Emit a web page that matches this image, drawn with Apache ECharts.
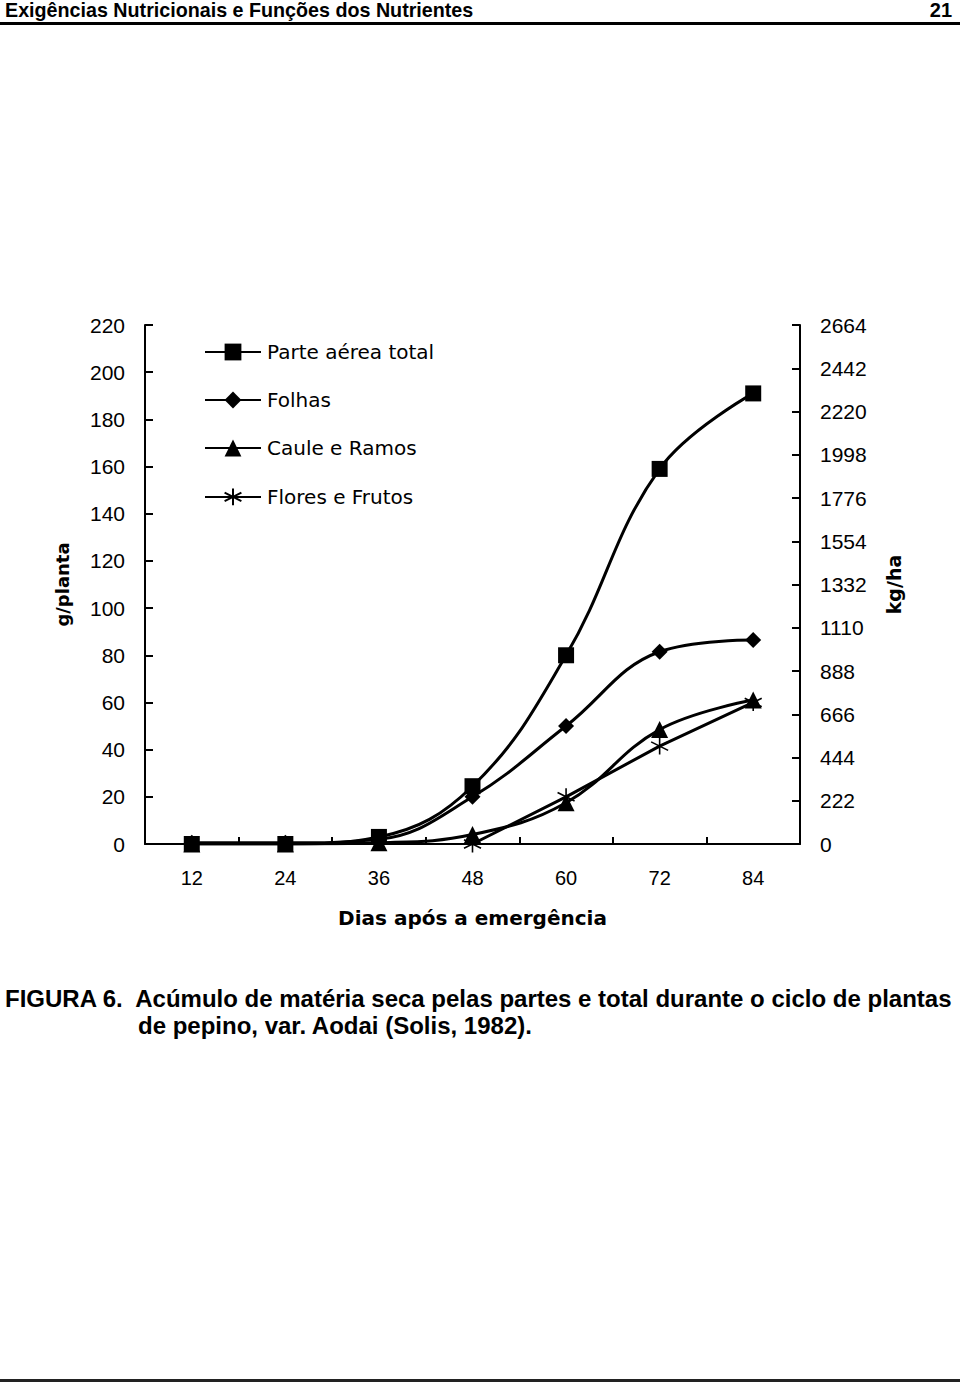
<!DOCTYPE html>
<html>
<head>
<meta charset="utf-8">
<script src="https://cdn.jsdelivr.net/npm/echarts@6/dist/echarts.min.js"></script>
<style>
html,body{margin:0;padding:0;background:#fff;}
#c{width:960px;height:1385px;}
</style>
</head>
<body>
<div id="c"></div>
<script>
// ---- data ----
const days = ['12', '24', '36', '48', '60', '72', '84'];
const parteAereaTotal = [0, 0, 3, 24.5, 80, 159, 191];
const folhas = [0.5, 0.5, 2, 20, 50, 81.5, 86.5];
const cauleRamos = [0, 0, 0.5, 4, 17.5, 48.5, 61];
const floresFrutos = [null, null, null, 0, 20, 41.5, 60];
const seriesNames = ['Parte aérea total', 'Folhas', 'Caule e Ramos', 'Flores e Frutos'];
const leftMax = 220, leftStep = 20;
const rightMax = 2664, rightStep = 222;

const headerTitle = 'Exigências Nutricionais e Funções dos Nutrientes';
const pageNumber = '21';
const captionLine1 = 'FIGURA 6.  Acúmulo de matéria seca pelas partes e total durante o ciclo de plantas';
const captionLine2 = 'de pepino, var. Aodai (Solis, 1982).';

const NARROW = '"Liberation Sans Narrow", "Liberation Sans", Arial, sans-serif';
const SANS = '"Liberation Sans", Arial, sans-serif';
const WIDE = '"DejaVu Sans", sans-serif';
const asterisk = 'path://M0,-10L0,10M-8.66,-5L8.66,5M-8.66,5L8.66,-5';

const chart = echarts.init(document.getElementById('c'), null, {renderer: 'svg'});

function mkSeries(name, data, symbol, size, smooth, z) {
  const s = {
    name: name,
    type: 'line',
    data: data,
    smooth: smooth,
    symbol: symbol,
    symbolSize: size,
    z: z,
    connectNulls: false,
    lineStyle: {color: '#000', width: 3},
    itemStyle: {color: '#000'},
    emphasis: {disabled: true},
    animation: false
  };
  if (symbol === asterisk) {
    s.itemStyle = {color: 'none', borderColor: '#000', borderWidth: 1.6};
  }
  return s;
}

const option = {
  animation: false,
  backgroundColor: '#fff',
  grid: {left: 145, right: 160, top: 325, bottom: 541, containLabel: false},
  legend: {
    data: seriesNames,
    orient: 'vertical',
    left: 199,
    top: 337,
    itemWidth: 56,
    itemHeight: 21,
    itemGap: 28,
    textStyle: {fontFamily: WIDE, fontSize: 20, color: '#000', padding: [0, 0, 0, 1]},
    selectedMode: false
  },
  xAxis: {
    type: 'category',
    data: days,
    boundaryGap: true,
    name: 'Dias após a emergência',
    nameLocation: 'middle',
    nameGap: 64,
    nameTextStyle: {fontFamily: WIDE, fontWeight: 'bold', fontSize: 20, color: '#000'},
    axisLine: {show: true, lineStyle: {color: '#000', width: 2}},
    axisTick: {show: true, inside: true, length: 7, lineStyle: {color: '#000', width: 2}},
    axisLabel: {fontFamily: SANS, fontSize: 20, color: '#000', margin: 24},
    splitLine: {show: false}
  },
  yAxis: [
    {
      type: 'value',
      min: 0, max: leftMax, interval: leftStep,
      position: 'left',
      name: 'g/planta',
      nameLocation: 'middle',
      nameRotate: 90,
      nameGap: 74,
      nameTextStyle: {fontFamily: WIDE, fontWeight: 'bold', fontSize: 18, color: '#000'},
      axisLine: {show: true, lineStyle: {color: '#000', width: 2}},
      axisTick: {show: true, inside: true, length: 8, lineStyle: {color: '#000', width: 2}},
      axisLabel: {fontFamily: SANS, fontSize: 21, color: '#000', margin: 20, formatter: function (v) { return String(v); }},
      splitLine: {show: false}
    },
    {
      type: 'value',
      min: 0, max: rightMax, interval: rightStep,
      position: 'right',
      name: 'kg/ha',
      nameLocation: 'middle',
      nameRotate: 90,
      nameGap: 84,
      nameTextStyle: {fontFamily: WIDE, fontWeight: 'bold', fontSize: 19, color: '#000'},
      axisLine: {show: true, lineStyle: {color: '#000', width: 2}},
      axisTick: {show: true, inside: true, length: 8, lineStyle: {color: '#000', width: 2}},
      axisLabel: {fontFamily: SANS, fontSize: 21, color: '#000', margin: 20, formatter: function (v) { return String(v); }},
      splitLine: {show: false}
    }
  ],
  series: [
    mkSeries(seriesNames[0], parteAereaTotal, 'rect', 16, 0.4, 5),
    mkSeries(seriesNames[1], folhas, 'diamond', 16, 0.4, 4),
    mkSeries(seriesNames[2], cauleRamos, 'triangle', 17, 0.4, 3),
    mkSeries(seriesNames[3], floresFrutos, asterisk, 17, false, 2)
  ],
  graphic: [
    {type: 'text', left: 5, top: 0, style: {text: headerTitle, fontFamily: NARROW, fontWeight: 'bold', fontSize: 19.7, fill: '#000'}},
    {type: 'text', right: 8, top: 0, style: {text: pageNumber, fontFamily: NARROW, fontWeight: 'bold', fontSize: 20, fill: '#000'}},
    {type: 'rect', shape: {x: 0, y: 22, width: 960, height: 3}, style: {fill: '#000'}},
    {type: 'text', left: 5, top: 986, style: {text: captionLine1, fontFamily: NARROW, fontWeight: 'bold', fontSize: 24, fill: '#000'}},
    {type: 'text', left: 138, top: 1013, style: {text: captionLine2, fontFamily: NARROW, fontWeight: 'bold', fontSize: 24, fill: '#000'}},
    {type: 'rect', shape: {x: 0, y: 1379, width: 960, height: 3}, style: {fill: '#222'}}
  ]
};
chart.setOption(option);
</script>
</body>
</html>
